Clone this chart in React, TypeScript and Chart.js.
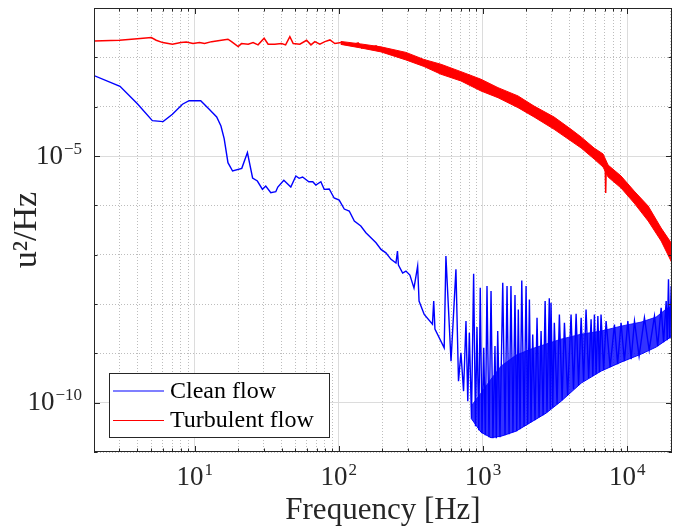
import React, { useEffect, useRef } from "react";
import { Chart, registerables } from "chart.js";

Chart.register(...registerables);

// ---------- data (frequency [Hz], PSD [u^2/Hz]) ----------
const cleanSmooth: [number, number][] = [
  [2, 4.26e-4], [3.03, 2.59e-4], [4.0, 1.15e-4], [5.08, 5.2e-5], [6.03, 4.97e-5], [7.0, 7.02e-5],
  [8.22, 1.12e-4], [9.13, 1.32e-4], [11.0, 1.32e-4], [12.6, 8.85e-5], [14.2, 6.18e-5], [15.2, 4.06e-5],
  [16.0, 2.26e-5], [17.0, 7.31e-6], [18.3, 4.96e-6], [21.2, 5.63e-6], [23.2, 1.17e-5], [25.2, 3.58e-6],
  [27.2, 3.11e-6], [29.5, 2.11e-6], [31.1, 2.46e-6], [33.7, 1.8e-6], [36.5, 1.89e-6], [37.7, 2.35e-6],
  [41.5, 3.21e-6], [46.4, 2.35e-6], [50.3, 3.93e-6], [53.0, 3.53e-6], [56.0, 3.75e-6], [61.9, 3.01e-6],
  [65.9, 3.01e-6], [69.2, 2.58e-6], [75.0, 3.01e-6], [79.1, 2.11e-6], [85.7, 2.14e-6], [92.7, 1.41e-6],
  [100.5, 1.28e-6], [109, 8.41e-7], [118, 7.66e-7], [128, 4.81e-7], [142, 3.8e-7], [154, 2.78e-7],
  [167, 2.2e-7], [181, 1.74e-7], [196, 1.28e-7], [212, 1.09e-7], [230, 8.03e-8], [249, 6.76e-8],
  [255, 1.18e-7], [259, 6.15e-8], [277, 4.24e-8], [292, 4.64e-8], [311, 3.85e-8], [332, 2.1e-8],
];

const cleanSpiky: [number, number][] = [
  [352, 5.87e-8], [360, 1.15e-8], [391, 6.15e-9], [446, 3.91e-9], [455, 1.15e-8], [464, 3.1e-9],
  [538, 1.29e-9], [553, 9.38e-8], [600, 6.95e-10], [649, 5.04e-8], [676, 2.73e-10], [703, 1.02e-9],
  [733, 1.71e-10], [762, 4.5e-9], [784, 1.07e-10], [804, 2.61e-9], [832, 4.85e-11], [861, 4.1e-8],
  [887, 3.33e-11], [908, 3.4e-9], [935, 2.77e-11], [957, 2.13e-8], [984, 2.4e-11], [1012, 1.29e-9],
  [1038, 2.19e-11], [1066, 2.31e-8], [1101, 2.0e-11], [1137, 1.83e-8], [1172, 1.91e-11], [1211, 1.4e-9],
  [1237, 1.91e-11], [1265, 2.82e-9], [1312, 2.0e-11], [1371, 2.69e-8], [1422, 2.19e-11], [1468, 2.31e-8],
  [1517, 2.3e-11], [1563, 2.31e-8], [1614, 2.52e-11], [1667, 1.52e-8], [1714, 2.64e-11], [1758, 7.76e-9],
  [1807, 2.9e-11], [1858, 3.01e-8], [1927, 3.33e-11], [1990, 2.31e-8], [2042, 3.66e-11], [2099, 1.24e-8],
  [2154, 4.02e-11], [2213, 2.42e-9], [2296, 4.42e-11], [2371, 5.25e-9], [2449, 5.08e-11], [2529, 2.82e-9],
  [2612, 5.57e-11], [2698, 1.15e-8], [2780, 6.41e-11], [2884, 1.3e-8], [2931, 7.38e-11], [2965, 1.06e-8],
  [3048, 8.11e-11], [3126, 4.16e-9], [3266, 9.33e-11], [3388, 6.15e-9], [3540, 1.12e-10], [3673, 4.16e-9],
  [3864, 1.42e-10], [4083, 6.15e-9], [4246, 1.88e-10], [4426, 6.32e-9], [4603, 2.26e-10], [4797, 5.25e-9],
  [4989, 2.73e-10], [5188, 7.76e-9], [5408, 3.14e-10], [5623, 4.88e-9], [5781, 3.45e-10], [5929, 6.15e-9],
  [6095, 3.78e-10], [6266, 5.69e-9], [6427, 4.16e-10], [6592, 6.15e-9], [6871, 4.56e-10], [7145, 4.5e-9],
  [7620, 5.25e-10], [8166, 3.85e-9], [8590, 6.04e-10], [9078, 4.16e-9], [9572, 6.95e-10], [10116, 4.5e-9],
  [10666, 7.62e-10], [11246, 4.5e-9], [12106, 8.77e-10], [13183, 5.25e-9], [14223, 1.16e-9], [15478, 5.69e-9],
  [16293, 1.4e-9], [17219, 8.37e-9], [17906, 1.69e-9], [18660, 1.15e-8], [18967, 1.85e-9], [19364, 3.16e-8],
  [19724, 2.03e-9], [20230, 2.31e-8], [20480, 5.25e-9],
];

// dense floor of the clean-flow spectrum above ~800 Hz
const cleanBandFreq = [826, 968, 1137, 1334, 1694, 2154, 2738, 3483, 4797, 6592, 9078, 12503, 15885, 18660, 20480];
const cleanBandHigh = [8.49e-11, 1.56e-10, 3.0e-10, 5.5e-10, 9.18e-10, 1.22e-9, 1.54e-9, 1.94e-9, 2.45e-9, 2.82e-9, 3.56e-9, 4.3e-9, 5.42e-9, 7.89e-9, 9.06e-9];
const cleanBandLow = [4.85e-11, 2.52e-11, 1.95e-11, 2.09e-11, 2.64e-11, 4.02e-11, 6.12e-11, 1.07e-10, 2.49e-10, 4.36e-10, 6.62e-10, 9.64e-10, 1.34e-9, 1.85e-9, 2.23e-9];

const turbulent: [number, number][] = [
  [2, 2.15e-3], [3, 2.22e-3], [4, 2.39e-3], [5, 2.51e-3], [5.4, 2.22e-3], [6, 1.99e-3], [7, 1.85e-3],
  [8, 1.99e-3], [8.75, 2.05e-3], [9.73, 1.9e-3], [10.8, 1.99e-3], [11.7, 1.9e-3], [13.1, 2.08e-3],
  [15.3, 2.22e-3], [17.0, 2.33e-3], [18.0, 2.08e-3], [20.0, 1.65e-3], [21.1, 1.9e-3], [23.5, 1.85e-3],
  [25.4, 1.99e-3], [27.5, 1.79e-3], [30.3, 2.44e-3], [32.3, 1.85e-3], [35.9, 1.85e-3], [40.0, 1.9e-3],
  [42.7, 1.79e-3], [45.7, 2.63e-3], [48.2, 1.9e-3], [53.6, 1.85e-3], [59.7, 2.22e-3], [64.0, 1.79e-3],
  [68.1, 2.08e-3], [73.8, 1.85e-3], [80, 2.08e-3], [86.7, 2.25e-3], [93.8, 1.9e-3], [104, 1.99e-3],
  [116, 1.79e-3], [129, 1.85e-3], [136, 1.96e-3], [144, 1.55e-3], [152, 1.75e-3], [169, 1.57e-3],
  [181, 1.7e-3], [196, 1.46e-3], [292, 1.07e-3], [391, 7.8e-4], [511, 5.74e-4], [703, 4.2e-4],
  [968, 2.75e-4], [1265, 1.92e-4], [1750, 1.26e-4], [2260, 8.0e-5], [3112, 4.67e-5], [4083, 2.67e-5],
  [4797, 1.88e-5], [5902, 1.12e-5], [7040, 7.5e-6], [7100, 1.78e-6], [7160, 5.98e-6], [7379, 4.96e-6],
  [9078, 2.97e-6], [11190, 1.47e-6], [13996, 6.82e-7], [17219, 2.56e-7], [20480, 1.05e-7],
];

// spread (noise band) of the turbulent-flow spectrum
const turbBandFreq = [103, 142, 196, 292, 389, 511, 703, 968, 1271, 1750, 2260, 3112, 4083, 4797, 5902, 6808, 7379, 9078, 11190, 13996, 17219, 20480];
const turbBandHigh = [2.1e-3, 1.87e-3, 1.63e-3, 1.26e-3, 9.06e-4, 7.24e-4, 5.13e-4, 3.6e-4, 2.43e-4, 1.65e-4, 1.03e-4, 6.18e-5, 3.48e-5, 2.43e-5, 1.45e-5, 1.1e-5, 6.56e-6, 3.93e-6, 1.95e-6, 9.68e-7, 3.47e-7, 1.64e-7];
const turbBandLow = [1.83e-3, 1.55e-3, 1.29e-3, 8.85e-4, 6.53e-4, 4.54e-4, 3.32e-4, 2.08e-4, 1.52e-4, 9.55e-5, 6.18e-5, 3.48e-5, 2.01e-5, 1.45e-5, 8.69e-6, 5.98e-6, 3.75e-6, 2.24e-6, 1.11e-6, 4.81e-7, 1.89e-7, 6.76e-8];

const xGridValues = [
  2, 3, 4, 5, 6, 7, 8, 9, 10, 20, 30, 40, 50, 60, 70, 80, 90, 100, 200, 300, 400, 500, 600, 700, 800, 900,
  1000, 2000, 3000, 4000, 5000, 6000, 7000, 8000, 9000, 10000, 20000,
];
// labelled decades: value -> exponent text
const xTickExponents: Record<string, string> = { "10": "1", "100": "2", "1000": "3", "10000": "4" };
const yGridExponents = [-11, -10, -9, -8, -7, -6, -5, -4, -3, -2];
const yTickExponents: Record<string, string> = { "-10": "\u221210", "-5": "\u22125" };

const SERIF = '"Liberation Serif", "Times New Roman", serif';
const AXIS = "#262626";

const toPoints = (f: number[], v: number[]) => f.map((x, i) => ({ x, y: v[i] }));
const pairs = (p: [number, number][]) => p.map(([x, y]) => ({ x, y }));
const expOf = (v: number) => Math.round(Math.log10(v));
const isXMajor = (v?: number) => v !== undefined && xTickExponents[String(v)] !== undefined;
const isYMajor = (v?: number) => v !== undefined && yTickExponents[String(expOf(v))] !== undefined;

function drawPower(ctx: CanvasRenderingContext2D, exp: string, x: number, baseY: number, align: "center" | "right") {
  ctx.font = `27px ${SERIF}`;
  const wb = ctx.measureText("10").width;
  ctx.font = `17px ${SERIF}`;
  const we = ctx.measureText(exp).width;
  const total = wb + 1 + we;
  const x0 = align === "center" ? x - total / 2 : x - total;
  ctx.font = `27px ${SERIF}`;
  ctx.fillText("10", x0, baseY);
  ctx.font = `17px ${SERIF}`;
  ctx.fillText(exp, x0 + wb + 1, baseY - 10);
}

const framePlugin = {
  id: "frameAndLegend",
  afterDraw(chart: any) {
    const { ctx, chartArea: a, scales } = chart;
    const xs = scales.x;
    const ys = scales.y;
    ctx.save();
    ctx.strokeStyle = AXIS;
    ctx.lineWidth = 1;
    ctx.beginPath();
    for (const t of xs.ticks) {
      const px = Math.round(xs.getPixelForValue(t.value)) + 0.5;
      const len = isXMajor(t.value) ? 6 : 3.5;
      ctx.moveTo(px, a.bottom);
      ctx.lineTo(px, a.bottom - len);
      ctx.moveTo(px, a.top);
      ctx.lineTo(px, a.top + len);
    }
    for (const t of ys.ticks) {
      const py = Math.round(ys.getPixelForValue(t.value)) + 0.5;
      const len = isYMajor(t.value) ? 6 : 3.5;
      ctx.moveTo(a.left, py);
      ctx.lineTo(a.left + len, py);
      ctx.moveTo(a.right, py);
      ctx.lineTo(a.right - len, py);
    }
    ctx.stroke();
    ctx.strokeRect(Math.round(a.left) + 0.5, Math.round(a.top) + 0.5, Math.round(a.right - a.left) - 1, Math.round(a.bottom - a.top) - 1);

    // tick labels as 10^n
    ctx.fillStyle = AXIS;
    ctx.textBaseline = "alphabetic";
    ctx.textAlign = "left";
    for (const t of xs.ticks) {
      const e = xTickExponents[String(t.value)];
      if (e) drawPower(ctx, e, xs.getPixelForValue(t.value), a.bottom + 33, "center");
    }
    for (const t of ys.ticks) {
      const e = yTickExponents[String(expOf(t.value))];
      if (e) drawPower(ctx, e, a.left - 12, ys.getPixelForValue(t.value) + 7.5, "right");
    }

    // legend (south-west, inside axes)
    const items = chart.data.datasets.filter((d: any) => !d.hideInLegend);
    const lx = Math.round(a.left) + 15;
    const ly = Math.round(a.bottom) - 79;
    const lw = 220;
    const lh = 64;
    ctx.fillStyle = "#ffffff";
    ctx.fillRect(lx, ly, lw, lh);
    ctx.strokeStyle = AXIS;
    ctx.lineWidth = 1;
    ctx.strokeRect(lx + 0.5, ly + 0.5, lw, lh);
    ctx.font = `24px ${SERIF}`;
    items.forEach((d: any, i: number) => {
      const y = ly + 18 + i * 29.5;
      ctx.strokeStyle = d.borderColor;
      ctx.lineWidth = 1.2;
      ctx.beginPath();
      ctx.moveTo(lx + 4, y);
      ctx.lineTo(lx + 55, y);
      ctx.stroke();
      ctx.fillStyle = "#000000";
      ctx.fillText(d.label, lx + 61, y + 6.5);
    });
    ctx.restore();
  },
};

export default function App() {
  const ref = useRef<HTMLCanvasElement | null>(null);

  useEffect(() => {
    if (!ref.current) return;
    const chart = new Chart(ref.current, {
      type: "line",
      data: {
        datasets: [
          {
            label: "Clean flow",
            data: pairs([...cleanSmooth, ...cleanSpiky]),
            borderColor: "#0000ff",
            borderWidth: 1.4,
            pointRadius: 0,
            fill: false,
          },
          {
            label: "Turbulent flow",
            data: pairs(turbulent),
            borderColor: "#ff0000",
            borderWidth: 1.5,
            pointRadius: 0,
            fill: false,
          },
          {
            label: "turbulent spread high",
            hideInLegend: true,
            data: toPoints(turbBandFreq, turbBandHigh),
            borderColor: "#ff0000",
            backgroundColor: "#ff0000",
            borderWidth: 1,
            pointRadius: 0,
            fill: "+1",
          },
          {
            label: "turbulent spread low",
            hideInLegend: true,
            data: toPoints(turbBandFreq, turbBandLow),
            borderColor: "#ff0000",
            borderWidth: 1,
            pointRadius: 0,
            fill: false,
          },
          {
            label: "clean floor high",
            hideInLegend: true,
            data: toPoints(cleanBandFreq, cleanBandHigh),
            borderColor: "rgba(0,0,255,0.8)",
            backgroundColor: "rgba(0,0,255,0.8)",
            borderWidth: 1,
            pointRadius: 0,
            fill: "+1",
          },
          {
            label: "clean floor low",
            hideInLegend: true,
            data: toPoints(cleanBandFreq, cleanBandLow),
            borderColor: "#0000ff",
            borderWidth: 1,
            pointRadius: 0,
            fill: false,
          },
        ] as any,
      },
      options: {
        responsive: false,
        animation: false,
        devicePixelRatio: 1,
        events: [],
        layout: { padding: { left: 0, right: 1, top: 8, bottom: 0 } },
        elements: { line: { tension: 0 }, point: { radius: 0 } },
        plugins: {
          legend: { display: false },
          tooltip: { enabled: false },
        },
        scales: {
          x: {
            type: "logarithmic",
            min: 2,
            max: 20480,
            afterBuildTicks: (s: any) => {
              s.ticks = xGridValues.map((v) => ({ value: v }));
            },
            afterFit: (s: any) => {
              s.height = 78;
              s.paddingLeft = 0;
              s.paddingRight = 0;
            },
            ticks: {
              display: false,
              autoSkip: false,
              maxRotation: 0,
              callback: (v: any) => (isXMajor(v) ? `10^${xTickExponents[String(v)]}` : ""),
            },
            grid: {
              drawTicks: false,
              lineWidth: 1,
              color: (c: any) => (isXMajor(c.tick?.value) ? "#dcdcdc" : "#bdbdbd"),
            },
            border: {
              display: false,
              dash: (c: any) => (c.tick && !isXMajor(c.tick.value) ? [1, 2] : []),
            },
            title: {
              display: true,
              text: "Frequency [Hz]",
              color: AXIS,
              font: { family: SERIF, size: 31 },
              padding: { top: 0, bottom: 1 },
            },
          },
          y: {
            type: "logarithmic",
            min: 1e-11,
            max: 1e-2,
            afterBuildTicks: (s: any) => {
              s.ticks = yGridExponents.map((e) => ({ value: Math.pow(10, e) }));
            },
            afterFit: (s: any) => {
              s.width = 94;
              s.paddingTop = 0;
              s.paddingBottom = 0;
            },
            ticks: {
              display: false,
              autoSkip: false,
              callback: (v: any) => (isYMajor(Number(v)) ? `10^${yTickExponents[String(expOf(Number(v)))]}` : ""),
            },
            grid: {
              drawTicks: false,
              lineWidth: 1,
              color: (c: any) => (isYMajor(c.tick?.value) ? "#dcdcdc" : "#bdbdbd"),
            },
            border: {
              display: false,
              dash: (c: any) => (c.tick && !isYMajor(c.tick.value) ? [1, 2] : []),
            },
            title: {
              display: true,
              text: "u²/Hz",
              color: AXIS,
              font: { family: SERIF, size: 34 },
              padding: { top: 7, bottom: 0 },
            },
          },
        },
      } as any,
      plugins: [framePlugin],
    });
    return () => chart.destroy();
  }, []);

  return (
    <div style={{ position: "absolute", left: 0, top: 0, width: 673, height: 530, background: "#ffffff" }}>
      <canvas ref={ref} width={673} height={530} style={{ display: "block", width: 673, height: 530 }} />
    </div>
  );
}
